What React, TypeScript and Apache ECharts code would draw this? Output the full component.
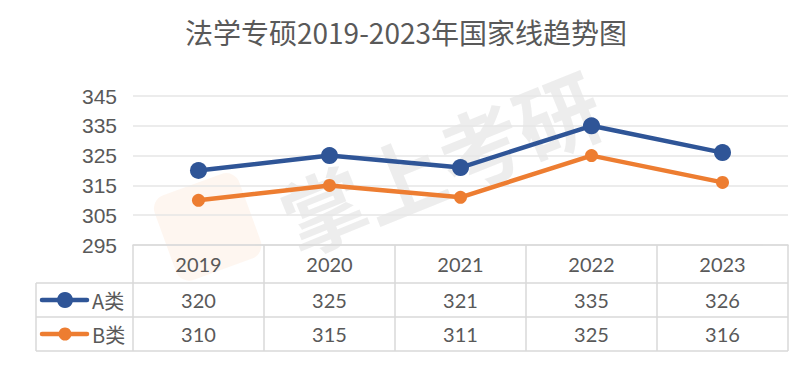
import React, { useEffect, useRef } from "react";
import * as echarts from "echarts";

const title = "法学专硕2019-2023年国家线趋势图";
const years = ["2019", "2020", "2021", "2022", "2023"];
const seriesNames = ["A类", "B类"];
const seriesA = [320, 325, 321, 335, 326];
const seriesB = [310, 315, 311, 325, 316];
const yTicks = { min: 295, max: 345, interval: 10 };
const colors = ["#2F5597", "#ED7D31"];

const W = 812;
const H = 378;
const gridLeft = 133;
const gridRight = 788;
const gridTop = 96;
const gridBottom = 245;
const rowH = 34;
const tableTop = 245;
const headerBottom = 283;
const labelLeft = 36;
const lineColor = "#D9D9D9";
const textColor = "#595959";
const tableFont = "Lato, 'Open Sans', sans-serif";

export default function App() {
  const ref = useRef<HTMLDivElement>(null);
  useEffect(() => {
    if (!ref.current) return;
    const chart = echarts.init(ref.current, null, { renderer: "svg", width: W, height: H });
    const rows = [seriesA, seriesB];
    const graphics: any[] = [];
    // watermark
    graphics.push({
      type: "text",
      x: 440,
      y: 160,
      rotation: (22 * Math.PI) / 180,
      z: -10,
      silent: true,
      style: {
        text: "掌上考研",
        font: "bold 84px 'Noto Sans CJK SC'",
        fill: "rgba(200,200,200,0.32)",
        align: "center",
        verticalAlign: "middle",
      },
    });
    graphics.push({
      type: "rect",
      x: 150,
      y: 200,
      rotation: (20 * Math.PI) / 180,
      z: -10,
      silent: true,
      shape: { width: 90, height: 90, r: 14 },
      style: { fill: "rgba(237,125,49,0.07)" },
    });
    // table horizontal lines
    const hLines = [headerBottom, headerBottom + rowH, headerBottom + 2 * rowH];
    hLines.forEach((y) => {
      graphics.push({
        type: "line",
        shape: { x1: labelLeft, y1: y, x2: gridRight, y2: y },
        style: { stroke: lineColor, lineWidth: 1.5 },
      });
    });
    graphics.push({
      type: "line",
      shape: { x1: labelLeft, y1: headerBottom, x2: labelLeft, y2: headerBottom + 2 * rowH },
      style: { stroke: lineColor, lineWidth: 1.5 },
    });
    // legend cells
    seriesNames.forEach((name, i) => {
      const cy = headerBottom + rowH * i + rowH / 2;
      graphics.push({
        type: "line",
        shape: { x1: 42, y1: cy, x2: 87, y2: cy },
        style: { stroke: colors[i], lineWidth: 4.5, lineCap: "round" },
      });
      graphics.push({
        type: "circle",
        shape: { cx: 65, cy, r: i === 0 ? 8 : 6.5 },
        style: { fill: colors[i] },
      });
      graphics.push({
        type: "text",
        x: 92,
        y: cy,
        style: {
          text: name,
          font: "20px 'Noto Sans CJK SC'",
          fill: textColor,
          verticalAlign: "middle",
        },
      });
    });
    // bottom black border
    graphics.push({
      type: "rect",
      shape: { x: 0, y: H - 3, width: W, height: 3 },
      style: { fill: "#111" },
    });

    const xBase = {
      type: "category",
      data: years,
      gridIndex: 0,
      position: "bottom",
      boundaryGap: true,
    };

    chart.setOption({
      animation: false,
      backgroundColor: "#fff",
      title: {
        text: title,
        left: "center",
        top: 13,
        textStyle: {
          fontFamily: "'Noto Sans CJK SC'",
          fontSize: 28,
          fontWeight: "normal",
          color: textColor,
        },
      },
      grid: {
        left: gridLeft,
        top: gridTop,
        width: gridRight - gridLeft,
        height: gridBottom - gridTop,
        containLabel: false,
      },
      xAxis: [
        {
          ...xBase,
          axisLine: { show: true, lineStyle: { color: lineColor, width: 1.5 } },
          axisTick: {
            show: true,
            interval: 0,
            length: headerBottom + 2 * rowH - tableTop,
            lineStyle: { color: lineColor, width: 1.5 },
          },
          axisLabel: {
            margin: (headerBottom - tableTop) / 2,
            verticalAlign: "middle",
            fontFamily: tableFont,
            fontSize: 20,
            color: textColor,
          },
        },
        ...rows.map((vals, r) => ({
          ...xBase,
          axisLine: { show: false },
          axisTick: { show: false },
          axisLabel: {
            margin: headerBottom - tableTop + rowH * r + rowH / 2,
            verticalAlign: "middle",
            fontFamily: tableFont,
            fontSize: 20,
            color: textColor,
            formatter: (_v: string, idx: number) => String(vals[idx]),
          },
        })),
      ],
      yAxis: {
        type: "value",
        min: yTicks.min,
        max: yTicks.max,
        interval: yTicks.interval,
        axisLine: { show: false },
        axisTick: { show: false },
        axisLabel: {
          margin: 16,
          fontFamily: "'Liberation Sans', Arial, sans-serif",
          fontSize: 21,
          color: textColor,
        },
        splitLine: { lineStyle: { color: "#E6E6E6", width: 1.5 } },
      },
      series: [
        {
          name: seriesNames[0],
          type: "line",
          data: seriesA,
          xAxisIndex: 0,
          symbol: "circle",
          symbolSize: 17,
          lineStyle: { color: colors[0], width: 4.5 },
          itemStyle: { color: colors[0] },
          z: 3,
        },
        {
          name: seriesNames[1],
          type: "line",
          data: seriesB,
          xAxisIndex: 0,
          symbol: "circle",
          symbolSize: 13,
          lineStyle: { color: colors[1], width: 4.5 },
          itemStyle: { color: colors[1] },
          z: 2,
        },
      ],
      graphic: graphics,
    });
    return () => chart.dispose();
  }, []);
  return <div ref={ref} style={{ width: W, height: H, margin: -8 }} />;
}
